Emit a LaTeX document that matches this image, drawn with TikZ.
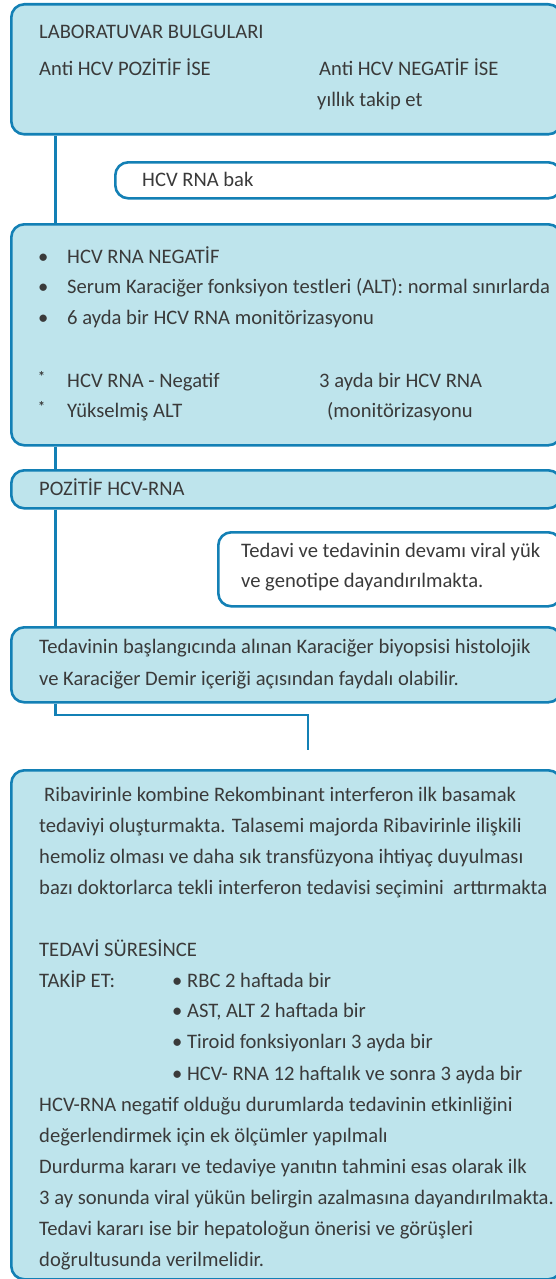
\documentclass[tikz,border=0pt]{standalone}
\usepackage{fontspec}
\setmainfont{Carlito}
\definecolor{boxfill}{HTML}{BEE4EC}
\definecolor{boxline}{HTML}{1380B5}
\definecolor{txtcol}{HTML}{3A3A3A}
\begin{document}
\begin{tikzpicture}[x=1pt,y=-1pt,
  panel/.style={draw=boxline, line width=2.6pt, rounded corners=13pt, fill=boxfill, anchor=north west, inner sep=0pt},
  wpanel/.style={panel, fill=white},
  link/.style={draw=boxline, line width=2.6pt},
  txt/.style={anchor=base west, inner sep=0pt, text=txtcol, font=\fontsize{20.6}{24}\selectfont},
  star/.style={anchor=base west, inner sep=0pt, text=txtcol, font=\fontsize{14}{16}\selectfont\bfseries}
]
\useasboundingbox (0,0) rectangle (556,1279);
\clip (0,0) rectangle (556,1279);
% boxes
\node[panel, minimum width=550pt, minimum height=130pt] (b1) at (10,3) {};
\node[wpanel, minimum width=446pt, minimum height=36pt] (b2) at (114,161) {};
\node[panel, minimum width=550pt, minimum height=221pt] (b3) at (10,223) {};
\node[panel, minimum width=550pt, minimum height=38pt] (b4) at (10,469) {};
\node[wpanel, minimum width=343pt, minimum height=74pt] (b5) at (217,531) {};
\node[panel, minimum width=550pt, minimum height=75pt] (b6) at (10,626) {};
\node[panel, minimum width=550pt, minimum height=509pt] (b7) at (10,769) {};
% connectors
\coordinate (lx) at (55.5,0);
\coordinate (bend1) at (55.5,715);
\coordinate (bend2) at (308,715);
\coordinate (lend) at (308,750);
\draw[link] (b1.south -| lx) -- (b3.north -| lx);
\draw[link] (b3.south -| lx) -- (b4.north -| lx);
\draw[link] (b4.south -| lx) -- (b6.north -| lx);
\draw[link] (b6.south -| lx) -- (bend1) -- (bend2) -- (lend);
% box 1
\node[txt] (t1a) at (39,39) {LABORATUVAR BULGULARI};
\node[txt] (t1b) at (39,76) {Anti HCV POZİTİF İSE};
\node[txt] (t1c) at (319,76) {Anti HCV NEGATİF İSE};
\node[txt] (t1d) at (317,107) {yıllık takip et};
% box 2
\node[txt] (t2) at (142,186) {HCV RNA bak};
% box 3
\node[txt] (t3a0) at (38,263) {•};
\node[txt] (t3a) at (67,263) {HCV RNA NEGATİF};
\node[txt] (t3b0) at (38,293) {•};
\node[txt] (t3b) at (67,293) {Serum Karaciğer fonksiyon testleri (ALT): normal sınırlarda};
\node[txt] (t3c0) at (38,324) {•};
\node[txt] (t3c) at (67,324) {6 ayda bir HCV RNA monitörizasyonu};
\node[star] (t3d0) at (38,381) {*};
\node[txt] (t3d) at (67,387) {HCV RNA - Negatif};
\node[txt] (t3e) at (319,387) {3 ayda bir HCV RNA};
\node[star] (t3f0) at (38,411) {*};
\node[txt] (t3f) at (67,417) {Yükselmiş ALT};
\node[txt] (t3g) at (327,417) {(monitörizasyonu};
% box 4
\node[txt] (t4) at (39,495) {POZİTİF HCV-RNA};
% box 5
\node[txt] (t5a) at (241,557) {Tedavi ve tedavinin devamı viral yük};
\node[txt] (t5b) at (241,587) {ve genotipe dayandırılmakta.};
% box 6
\node[txt] (t6a) at (39,653) {Tedavinin başlangıcında alınan Karaciğer biyopsisi histolojik};
\node[txt] (t6b) at (39,685) {ve Karaciğer Demir içeriği açısından faydalı olabilir.};
% box 7
\node[txt] (t7a) at (44,801) {Ribavirinle kombine Rekombinant interferon ilk basamak};
\node[txt] (t7b) at (39,832) {tedaviyi oluşturmakta. Talasemi majorda Ribavirinle ilişkili};
\node[txt] (t7c) at (39,863) {hemoliz olması ve daha sık transfüzyona ihtiyaç duyulması};
\node[txt] (t7d) at (39,894) {bazı doktorlarca tekli interferon tedavisi seçimini\ \ arttırmakta};
\node[txt] (t7e) at (39,956) {TEDAVİ SÜRESİNCE};
\node[txt] (t7f) at (39,987) {TAKİP ET:};
\node[txt] (t7g) at (172,987) {• RBC 2 haftada bir};
\node[txt] (t7h) at (172,1017) {• AST, ALT 2 haftada bir};
\node[txt] (t7i) at (172,1048) {• Tiroid fonksiyonları 3 ayda bir};
\node[txt] (t7j) at (172,1080) {• HCV- RNA 12 haftalık ve sonra 3 ayda bir};
\node[txt] (t7k) at (39,1111) {HCV-RNA negatif olduğu durumlarda tedavinin etkinliğini};
\node[txt] (t7l) at (39,1142) {değerlendirmek için ek ölçümler yapılmalı};
\node[txt] (t7m) at (39,1173) {Durdurma kararı ve tedaviye yanıtın tahmini esas olarak ilk};
\node[txt] (t7n) at (39,1204) {3 ay sonunda viral yükün belirgin azalmasına dayandırılmakta.};
\node[txt] (t7o) at (39,1235) {Tedavi kararı ise bir hepatoloğun önerisi ve görüşleri};
\node[txt] (t7p) at (39,1266) {doğrultusunda verilmelidir.};
\end{tikzpicture}
\end{document}
